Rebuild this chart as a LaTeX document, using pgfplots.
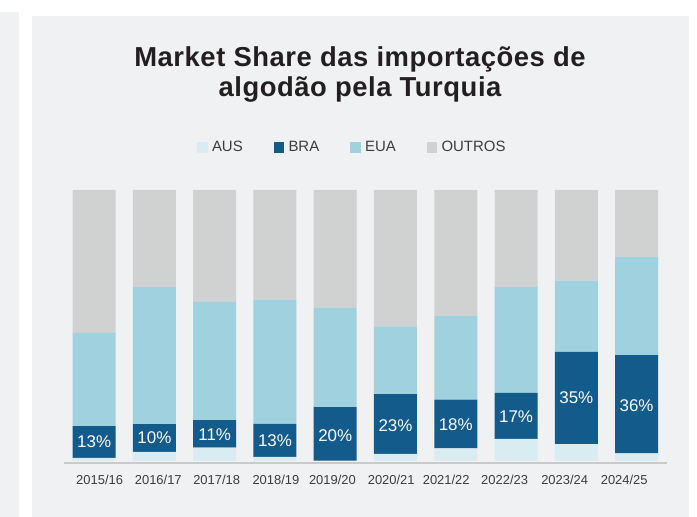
\documentclass[border=0pt]{standalone}
\usepackage{pgfplots}
\pgfplotsset{compat=1.18}
\usepackage{fontspec}
\setmainfont{Liberation Sans}
\definecolor{panel}{HTML}{F0F1F3}
\definecolor{cAUS}{HTML}{D9ECF2}
\definecolor{cBRA}{HTML}{135B8A}
\definecolor{cEUA}{HTML}{9FD1DE}
\definecolor{cOUT}{HTML}{D0D2D2}
\definecolor{basecol}{HTML}{C9CACA}
\definecolor{titlecol}{HTML}{231F20}
\definecolor{tickcol}{HTML}{3D3D3D}
\begin{document}
\begin{tikzpicture}[x=1bp,y=1bp]
\useasboundingbox (0,0) rectangle (697,517);
\fill[white] (0,0) rectangle (697,517);
\fill[panel] (0,0) rectangle (18.7,505);
\fill[panel] (32,0) rectangle (689,501);
\node[anchor=base, inner sep=0, font=\bfseries\fontsize{27.5}{30}\selectfont\addfontfeature{LetterSpace=2}, text=titlecol] at (360,450.3) {Market Share das importações de};
\node[anchor=base, inner sep=0, font=\bfseries\fontsize{27.5}{30}\selectfont\addfontfeature{LetterSpace=2}, text=titlecol] at (360,420.3) {algodão pela Turquia};
\begin{axis}[
  at={(64bp,53.8bp)}, anchor=south west,
  scale only axis,
  x=60.27bp, y=2.707bp,
  xmin=-0.5, xmax=9.5, ymin=-0.92, ymax=100,
  ybar stacked, bar width=43bp,
  axis x line*=bottom, axis y line=none,
  x axis line style={basecol, line width=2.3bp, -},
  xtick={0.091,1.064,2.033,3.016,3.954,4.929,5.842,6.811,7.807,8.795},
  xticklabels={2015/16,2016/17,2017/18,2018/19,2019/20,2020/21,2021/22,2022/23,2023/24,2024/25},
  major tick length=0,
  xticklabel style={anchor=base, yshift=-21.1bp, font=\fontsize{13}{13}\selectfont, text=tickcol},
  ytick=\empty,
  legend columns=4,
  legend style={at={(axis cs:1.707,115.7)}, anchor=west, draw=none, fill=none, inner sep=0pt,
    font=\fontsize{15}{15}\selectfont, text=tickcol,
    /tikz/every odd column/.append style={column sep=2.5bp},
    /tikz/every even column/.append style={column sep=29bp}},
  legend image code/.code={\draw[#1,draw=none] (0bp,-5.15bp) rectangle (10.3bp,5.15bp);},
]
\addplot[fill=cAUS, draw=none] coordinates {(0,1.0) (1,3.3) (2,4.8) (3,1.4) (4,0.0) (5,2.5) (6,4.6) (7,8.1) (8,6.1) (9,2.7)};
\addplot[fill=cBRA, draw=none] coordinates {(0,11.8) (1,10.2) (2,10.2) (3,12.2) (4,19.8) (5,22.1) (6,18.0) (7,17.0) (8,34.1) (9,36.3)};
\addplot[fill=cEUA, draw=none] coordinates {(0,34.4) (1,50.6) (2,43.7) (3,45.9) (4,36.7) (5,25.0) (6,30.8) (7,39.0) (8,26.3) (9,36.2)};
\addplot[fill=cOUT, draw=none] coordinates {(0,52.8) (1,35.9) (2,41.3) (3,40.5) (4,43.5) (5,50.4) (6,46.6) (7,35.9) (8,33.5) (9,24.8)};
\legend{AUS,BRA,EUA,OUTROS}
\end{axis}
\begin{axis}[
  at={(64bp,53.8bp)}, anchor=south west,
  scale only axis,
  x=60.27bp, y=2.707bp,
  xmin=-0.5, xmax=9.5, ymin=-0.92, ymax=100,
  hide axis,
]
\addplot[draw=none, mark=none, nodes near coords, point meta=explicit symbolic,
  nodes near coords style={anchor=center, text=white, font=\fontsize{17}{17}\selectfont}]
  coordinates {(0,6.9) [13\%] (1,8.4) [10\%] (2,9.7) [11\%] (3,7.3) [13\%] (4,9.3) [20\%]
               (5,13.0) [23\%] (6,13.2) [18\%] (7,16.2) [17\%] (8,23.4) [35\%] (9,20.5) [36\%]};
\end{axis}
\end{tikzpicture}
\end{document}
